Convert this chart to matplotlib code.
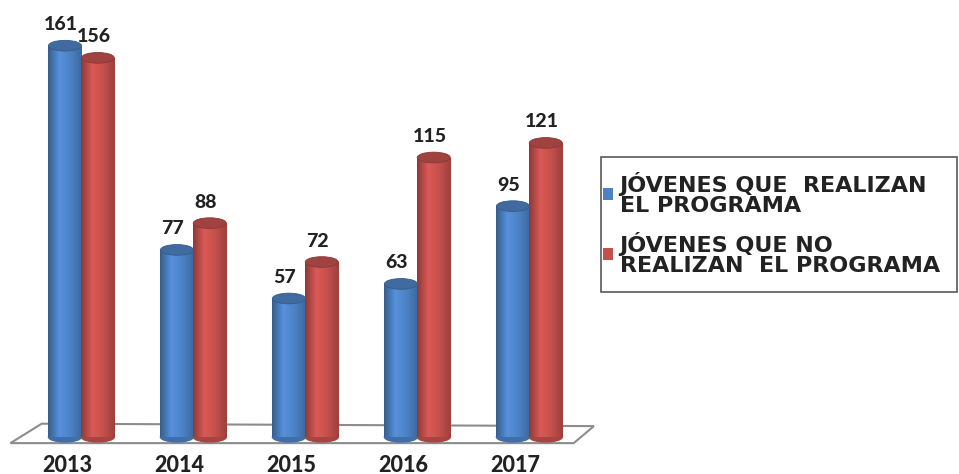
import numpy as np
import matplotlib.pyplot as plt
from matplotlib.patches import Ellipse, Polygon, Patch, Rectangle
from matplotlib.colors import LinearSegmentedColormap, to_rgb

# === Data ===
years = ["2013", "2014", "2015", "2016", "2017"]
realizan = [161, 77, 57, 63, 95]
no_realizan = [156, 88, 72, 115, 121]
labels = ["JÓVENES QUE  REALIZAN\nEL PROGRAMA", "JÓVENES QUE NO\nREALIZAN  EL PROGRAMA"]

blue = "#4D82C4"
red = "#C3504D"
ink = "#222222"

plt.rcParams['font.family'] = ['Lato', 'DejaVu Sans']

fig = plt.figure(figsize=(9.59, 4.74), dpi=100)
ax = fig.add_axes([0, 0, 1, 1])
ax.axis('off')

# === Floor ===
floor = Polygon([(-0.63, -2.5), (4.40, -2.5), (4.58, 4.5), (-0.35, 5.5)],
                closed=True, facecolor='white', edgecolor='#8c8c8c', lw=1.5, zorder=1)
ax.add_patch(floor)

w = 0.295
x = np.arange(len(years))


def cyl_cmap(c):
    base = np.array(to_rgb(c))
    dark = base * 0.72
    light = np.clip(base * 1.12, 0, 1)
    return LinearSegmentedColormap.from_list("cyl", [dark, light, base, base * 0.8])


def draw_cylinders(xs, vals, color):
    cm = cyl_cmap(color)
    base = np.array(to_rgb(color))
    grad = np.linspace(0, 1, 64).reshape(1, -1)
    bars = ax.bar(xs, vals, width=w, align='edge', color=color, lw=0, zorder=2)
    for b, v in zip(bars, vals):
        x0 = b.get_x()
        # rounded bottom
        ax.add_patch(Ellipse((x0 + w / 2, 0), w, 4.0, color=base * 0.85, zorder=2))
        im = ax.imshow(grad, extent=[x0, x0 + w, 0, v], cmap=cm, aspect='auto', zorder=3)
        im.set_clip_path(b)
        top = Ellipse((x0 + w / 2, v), w, 4.4, facecolor=base * 0.82,
                      edgecolor=base * 0.7, lw=0.6, zorder=4)
        ax.add_patch(top)
        ax.annotate(str(v), (x0 + w / 2, v), xytext=(-3, 9), textcoords='offset points',
                    ha='center', va='bottom', fontsize=14, fontweight='black', color=ink, zorder=5)


draw_cylinders(x - 0.143 - w / 2, realizan, blue)
draw_cylinders(x + 0.150 - w / 2, no_realizan, red)

ax.set_xlim(-0.723, 7.84)
ax.set_ylim(-15.2, 179.8)

# === Year labels ===
for xi, yr in zip(x, years):
    ax.text(xi - 0.125, -11.6, yr, ha='center', va='center', fontsize=15.5,
            fontweight='black', color=ink)

# === Legend ===
fig.patches.append(Rectangle((601 / 959, 1 - 292 / 474), 356 / 959, 135 / 474,
                             transform=fig.transFigure, facecolor='white',
                             edgecolor='#595959', lw=1.2, zorder=0))
handles = [Patch(facecolor=blue), Patch(facecolor=red)]
leg = fig.legend(handles, labels, loc='upper left', bbox_to_anchor=(603 / 959, 1 - 172 / 474),
                 frameon=False, prop={'family': 'DejaVu Sans', 'weight': 'bold', 'size': 16},
                 handlelength=0.45, handleheight=0.45, handletextpad=0.3, labelspacing=0.7,
                 borderpad=0, borderaxespad=0)
for t in leg.get_texts():
    t.set_color(ink)
    t.set_linespacing(1.0)

fig.savefig("out.png", dpi=100)
